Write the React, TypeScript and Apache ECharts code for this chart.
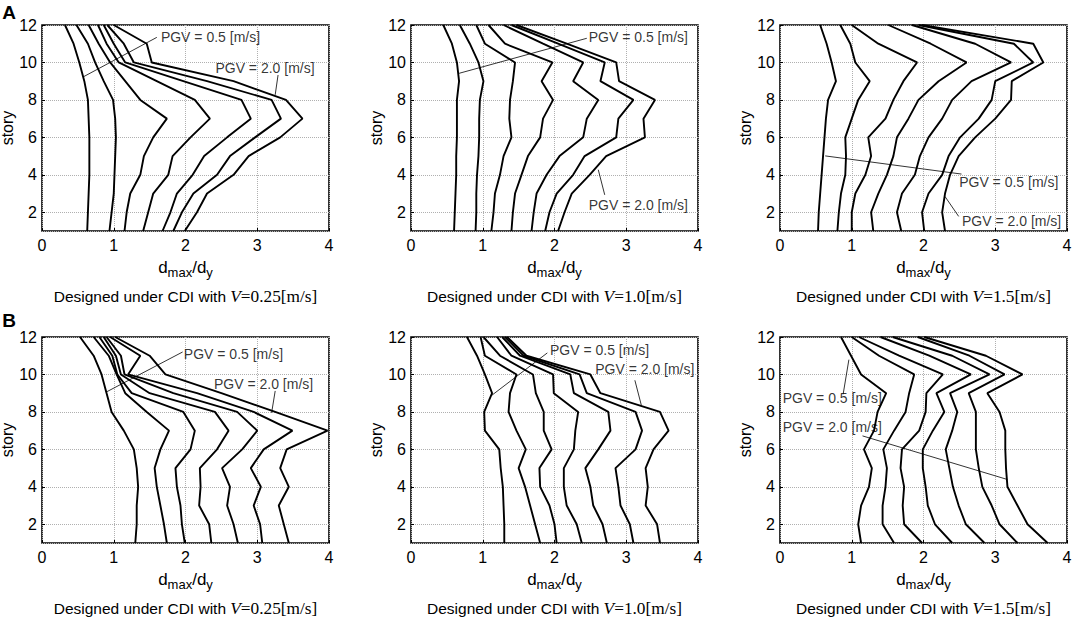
import React, { useEffect, useRef } from 'react';
import * as echarts from 'echarts';

// ---------- data ----------
const STORIES = [1, 2, 3, 4, 5, 6, 7, 8, 9, 10, 11, 12];
const PGV_LEVELS = ['0.50', '0.75', '1.00', '1.25', '1.50', '1.75', '2.00'];
const DESIGN_V = ['0.25', '1.0', '1.5', '0.25', '1.0', '1.5'];
const ROW_LABELS = ['A', 'B'];

// each row: d_max/d_y for stories 1..12, one row per PGV level (0.5 .. 2.0)
const PANEL_A1 = [
  [0.63, 0.64, 0.65, 0.66, 0.66, 0.66, 0.65, 0.64, 0.59, 0.52, 0.44, 0.32],
  [0.94, 0.97, 1.0, 1.01, 1.02, 1.03, 1.02, 0.99, 0.86, 0.74, 0.64, 0.48],
  [1.15, 1.18, 1.23, 1.37, 1.42, 1.55, 1.74, 1.37, 1.16, 0.95, 0.79, 0.65],
  [1.41, 1.48, 1.55, 1.76, 1.82, 2.07, 2.34, 2.13, 1.6, 1.07, 0.9, 0.78],
  [1.68, 1.79, 1.88, 2.1, 2.26, 2.58, 2.91, 2.78, 1.97, 1.16, 1.0, 0.86],
  [1.83, 1.95, 2.11, 2.44, 2.62, 2.97, 3.33, 3.2, 2.3, 1.28, 1.14, 0.91],
  [1.99, 2.16, 2.3, 2.67, 2.88, 3.32, 3.63, 3.4, 2.67, 1.53, 1.46, 1.0],
];
const PANEL_A2 = [
  [0.6, 0.61, 0.62, 0.63, 0.63, 0.64, 0.64, 0.64, 0.67, 0.64, 0.57, 0.45],
  [0.9, 0.91, 0.91, 0.92, 0.94, 0.95, 0.95, 0.96, 1.01, 0.94, 0.82, 0.68],
  [1.12, 1.15, 1.17, 1.24, 1.29, 1.4, 1.37, 1.38, 1.42, 1.45, 1.03, 0.91],
  [1.4, 1.42, 1.45, 1.54, 1.63, 1.8, 1.84, 1.98, 1.82, 1.97, 1.31, 1.08],
  [1.68, 1.71, 1.75, 1.89, 2.07, 2.4, 2.45, 2.61, 2.26, 2.4, 1.84, 1.29],
  [1.87, 1.93, 2.03, 2.26, 2.42, 2.86, 2.89, 3.1, 2.64, 2.7, 2.05, 1.4],
  [2.05, 2.14, 2.24, 2.49, 2.72, 3.26, 3.24, 3.4, 2.9, 2.86, 2.17, 1.47],
];
const PANEL_A3 = [
  [0.53, 0.54, 0.56, 0.58, 0.6, 0.62, 0.64, 0.67, 0.78, 0.72, 0.65, 0.56],
  [0.8, 0.82, 0.85, 0.91, 0.92, 0.91, 1.0, 1.09, 1.25, 1.05, 0.98, 0.84],
  [1.0, 1.0, 1.05, 1.19, 1.27, 1.23, 1.47, 1.58, 1.72, 1.91, 1.37, 1.0],
  [1.3, 1.27, 1.37, 1.49, 1.58, 1.63, 1.79, 1.93, 2.21, 2.6, 2.1, 1.51],
  [1.69, 1.63, 1.7, 1.88, 1.95, 2.07, 2.26, 2.4, 2.67, 3.22, 2.72, 1.84],
  [2.01, 1.98, 2.07, 2.26, 2.35, 2.51, 2.77, 2.95, 3.0, 3.53, 3.26, 1.93],
  [2.3, 2.26, 2.3, 2.37, 2.49, 2.72, 3.0, 3.22, 3.23, 3.67, 3.53, 1.98],
];
const PANEL_B1 = [
  [1.3, 1.32, 1.32, 1.34, 1.32, 1.28, 1.14, 0.97, 0.9, 0.83, 0.72, 0.53],
  [1.74, 1.7, 1.65, 1.6, 1.57, 1.65, 1.77, 1.46, 1.16, 1.04, 0.93, 0.72],
  [1.99, 1.95, 1.93, 1.88, 1.86, 2.07, 2.13, 1.97, 1.25, 1.05, 0.98, 0.8],
  [2.36, 2.33, 2.19, 2.21, 2.2, 2.44, 2.6, 2.41, 1.5, 1.1, 1.03, 0.86],
  [2.73, 2.67, 2.58, 2.62, 2.51, 2.79, 3.0, 2.72, 1.83, 1.15, 1.1, 0.9],
  [3.07, 3.04, 2.95, 3.05, 2.91, 3.09, 3.49, 2.95, 2.16, 1.2, 1.37, 0.95],
  [3.44, 3.37, 3.3, 3.44, 3.32, 3.41, 3.98, 3.25, 2.5, 1.72, 1.5, 1.02],
];
const PANEL_B2 = [
  [1.3, 1.3, 1.29, 1.28, 1.25, 1.23, 1.03, 1.02, 1.13, 1.03, 0.92, 0.78],
  [1.8, 1.73, 1.66, 1.59, 1.5, 1.6, 1.47, 1.36, 1.38, 1.47, 1.03, 0.97],
  [2.03, 2.0, 1.93, 1.8, 1.79, 1.96, 1.85, 1.85, 1.74, 1.7, 1.24, 1.01],
  [2.38, 2.31, 2.17, 2.13, 2.13, 2.27, 2.29, 2.33, 1.99, 1.98, 1.4, 1.2],
  [2.73, 2.67, 2.54, 2.5, 2.43, 2.61, 2.78, 2.75, 2.27, 2.22, 1.52, 1.27],
  [3.1, 3.05, 2.92, 2.89, 2.85, 3.13, 3.22, 3.13, 2.45, 2.35, 1.57, 1.31],
  [3.47, 3.43, 3.27, 3.3, 3.27, 3.38, 3.59, 3.47, 2.64, 2.5, 1.61, 1.34],
];
const PANEL_B3 = [
  [1.13, 1.09, 1.13, 1.24, 1.28, 1.17, 1.31, 1.36, 1.48, 1.13, 0.99, 0.85],
  [1.59, 1.43, 1.43, 1.47, 1.49, 1.44, 1.59, 1.75, 1.8, 1.87, 1.38, 1.0],
  [1.98, 1.73, 1.71, 1.73, 1.68, 1.7, 1.94, 2.03, 2.04, 2.27, 1.66, 1.1],
  [2.4, 2.16, 2.06, 2.03, 1.99, 1.99, 2.13, 2.29, 2.18, 2.66, 2.08, 1.4],
  [2.85, 2.59, 2.49, 2.41, 2.36, 2.31, 2.4, 2.47, 2.37, 2.92, 2.4, 1.57],
  [3.31, 3.06, 2.95, 2.82, 2.77, 2.73, 2.73, 2.73, 2.63, 3.13, 2.64, 1.92],
  [3.73, 3.45, 3.31, 3.17, 3.15, 3.14, 3.14, 3.06, 2.89, 3.38, 2.87, 2.01],
];
const PANELS = [PANEL_A1, PANEL_A2, PANEL_A3, PANEL_B1, PANEL_B2, PANEL_B3];

// annotation anchors in data coordinates [x, story]
const LABEL_LOW_POS = [[1.65, 11.34], [2.47, 11.34], [2.49, 3.59], [1.97, 11.11], [1.93, 11.29], [0.03, 8.75]];
const LEADER_LOW = [
  [[1.6, 11.34], [0.58, 9.24]],
  [[2.45, 11.29], [0.67, 9.42]],
  [[2.53, 4.04], [0.63, 5.01]],
  [[1.96, 11.2], [0.9, 9.07]],
  [[1.9, 11.15], [1.11, 8.84]],
  [[0.96, 10.79], [0.88, 8.94]],
];
const LABEL_HIGH_POS = [[2.41, 9.69], [2.47, 2.4], [2.53, 1.56], [2.39, 9.51], [2.56, 10.31], [0.03, 7.2]];
const LEADER_HIGH = [
  [[3.29, 9.33], [3.25, 8.27]],
  [[2.7, 2.93], [2.61, 4.27]],
  [[2.49, 1.78], [2.3, 2.84]],
  [[3.25, 9.12], [3.2, 7.95]],
  [[3.12, 9.69], [3.21, 8.36]],
  [[1.15, 6.72], [3.17, 4.39]],
];

// ---------- layout ----------
const GRID_LEFTS = [42, 411, 780];
const GRID_TOPS = [25, 337];
const GRID_W = 287;
const GRID_H = 206;
const SANS = 'Liberation Sans';
const SERIF = 'Liberation Serif';

function buildOption() {
  const grid: any[] = [];
  const xAxis: any[] = [];
  const yAxis: any[] = [];
  const series: any[] = [];
  const graphic: any[] = [];

  for (let p = 0; p < 6; p++) {
    const col = p % 3;
    const row = Math.floor(p / 3);
    grid.push({
      left: GRID_LEFTS[col],
      top: GRID_TOPS[row],
      width: GRID_W,
      height: GRID_H,
      show: true,
      borderColor: '#000',
      borderWidth: 1.6,
      backgroundColor: 'transparent',
      containLabel: false,
      outerBoundsMode: 'none',
    });
    xAxis.push({
      type: 'value',
      gridIndex: p,
      min: 0,
      max: 4,
      interval: 1,
      axisLine: { show: false },
      axisTick: { show: true, inside: true, length: 3, lineStyle: { color: '#000', width: 1 } },
      splitLine: { show: true, lineStyle: { color: '#b0b0b0', type: 'dotted', width: 1 } },
      axisLabel: { color: '#000', fontFamily: SANS, fontSize: 16, margin: 6 },
      name: '{d|d}{s|max}{d|/d}{s|y}',
      nameLocation: 'middle',
      nameGap: 24,
      nameTextStyle: {
        color: '#000',
        rich: {
          d: { fontFamily: SANS, fontSize: 17, color: '#000' },
          s: { fontFamily: SANS, fontSize: 13, color: '#000', padding: [11, 0, 0, 0] },
        },
      },
    });
    yAxis.push({
      type: 'value',
      gridIndex: p,
      min: 1,
      max: 12,
      splitNumber: 5,
      minInterval: 2,
      maxInterval: 2,
      axisLine: { show: false },
      axisTick: { show: true, inside: true, length: 3, lineStyle: { color: '#000', width: 1 } },
      splitLine: { show: true, lineStyle: { color: '#b0b0b0', type: 'dotted', width: 1 } },
      axisLabel: {
        color: '#000',
        fontFamily: SANS,
        fontSize: 16,
        margin: 5,
        showMinLabel: false,
        formatter: (v: number) => (v === 1 ? '' : String(v)),
      },
      name: 'story',
      nameLocation: 'middle',
      nameRotate: 90,
      nameGap: 24,
      nameTextStyle: { color: '#000', fontFamily: SANS, fontSize: 16 },
    });

    PANELS[p].forEach((vals, li) => {
      series.push({
        type: 'line',
        name: `PGV ${PGV_LEVELS[li]}`,
        xAxisIndex: p,
        yAxisIndex: p,
        data: STORIES.map((s, i) => [vals[i], s]),
        symbol: 'none',
        silent: true,
        lineStyle: { color: '#000', width: 1.9 },
        z: 3,
      });
    });

    [LEADER_LOW[p], LEADER_HIGH[p]].forEach((seg) => {
      series.push({
        type: 'line',
        xAxisIndex: p,
        yAxisIndex: p,
        data: seg,
        symbol: 'none',
        silent: true,
        lineStyle: { color: '#000', width: 0.8 },
        z: 4,
      });
    });

    [
      { pos: LABEL_LOW_POS[p], text: 'PGV = 0.5 [m/s]' },
      { pos: LABEL_HIGH_POS[p], text: 'PGV = 2.0 [m/s]' },
    ].forEach((lab) => {
      series.push({
        type: 'scatter',
        xAxisIndex: p,
        yAxisIndex: p,
        data: [lab.pos],
        symbolSize: 1,
        silent: true,
        itemStyle: { color: 'rgba(0,0,0,0)' },
        label: {
          show: true,
          position: 'right',
          distance: 0,
          formatter: lab.text,
          color: '#000',
          fontFamily: SANS,
          fontSize: 14,
        },
        z: 5,
      });
    });

    graphic.push({
      type: 'text',
      x: GRID_LEFTS[col] + GRID_W / 2,
      y: GRID_TOPS[row] + 271,
      silent: true,
      style: {
        text: `{a|Designed under CDI with }{v|V}{b|=${DESIGN_V[p]}[m/s]}`,
        align: 'center',
        verticalAlign: 'middle',
        rich: {
          a: { fontFamily: SANS, fontSize: 15.5, fill: '#000', color: '#000' },
          v: { fontFamily: SERIF, fontStyle: 'italic', fontSize: 17.3, fill: '#000', color: '#000' },
          b: { fontFamily: SERIF, fontSize: 17.3, fill: '#000', color: '#000' },
        },
      },
    });
  }

  ROW_LABELS.forEach((t, r) => {
    graphic.push({
      type: 'text',
      x: 9,
      y: r === 0 ? 12 : 320,
      silent: true,
      style: {
        text: t,
        align: 'center',
        verticalAlign: 'middle',
        fontFamily: SANS,
        fontWeight: 'bold',
        fontSize: 19,
        fill: '#000',
      },
    });
  });

  return {
    animation: false,
    backgroundColor: '#fff',
    grid,
    xAxis,
    yAxis,
    series,
    graphic,
  };
}

export default function App() {
  const ref = useRef<HTMLDivElement>(null);
  useEffect(() => {
    if (!ref.current) return;
    const chart = echarts.init(ref.current, undefined, { renderer: 'svg' });
    chart.setOption(buildOption() as any);
    return () => chart.dispose();
  }, []);
  return (
    <div
      ref={ref}
      style={{ position: 'fixed', left: 0, top: 0, width: 1072, height: 619, background: '#fff' }}
    />
  );
}
